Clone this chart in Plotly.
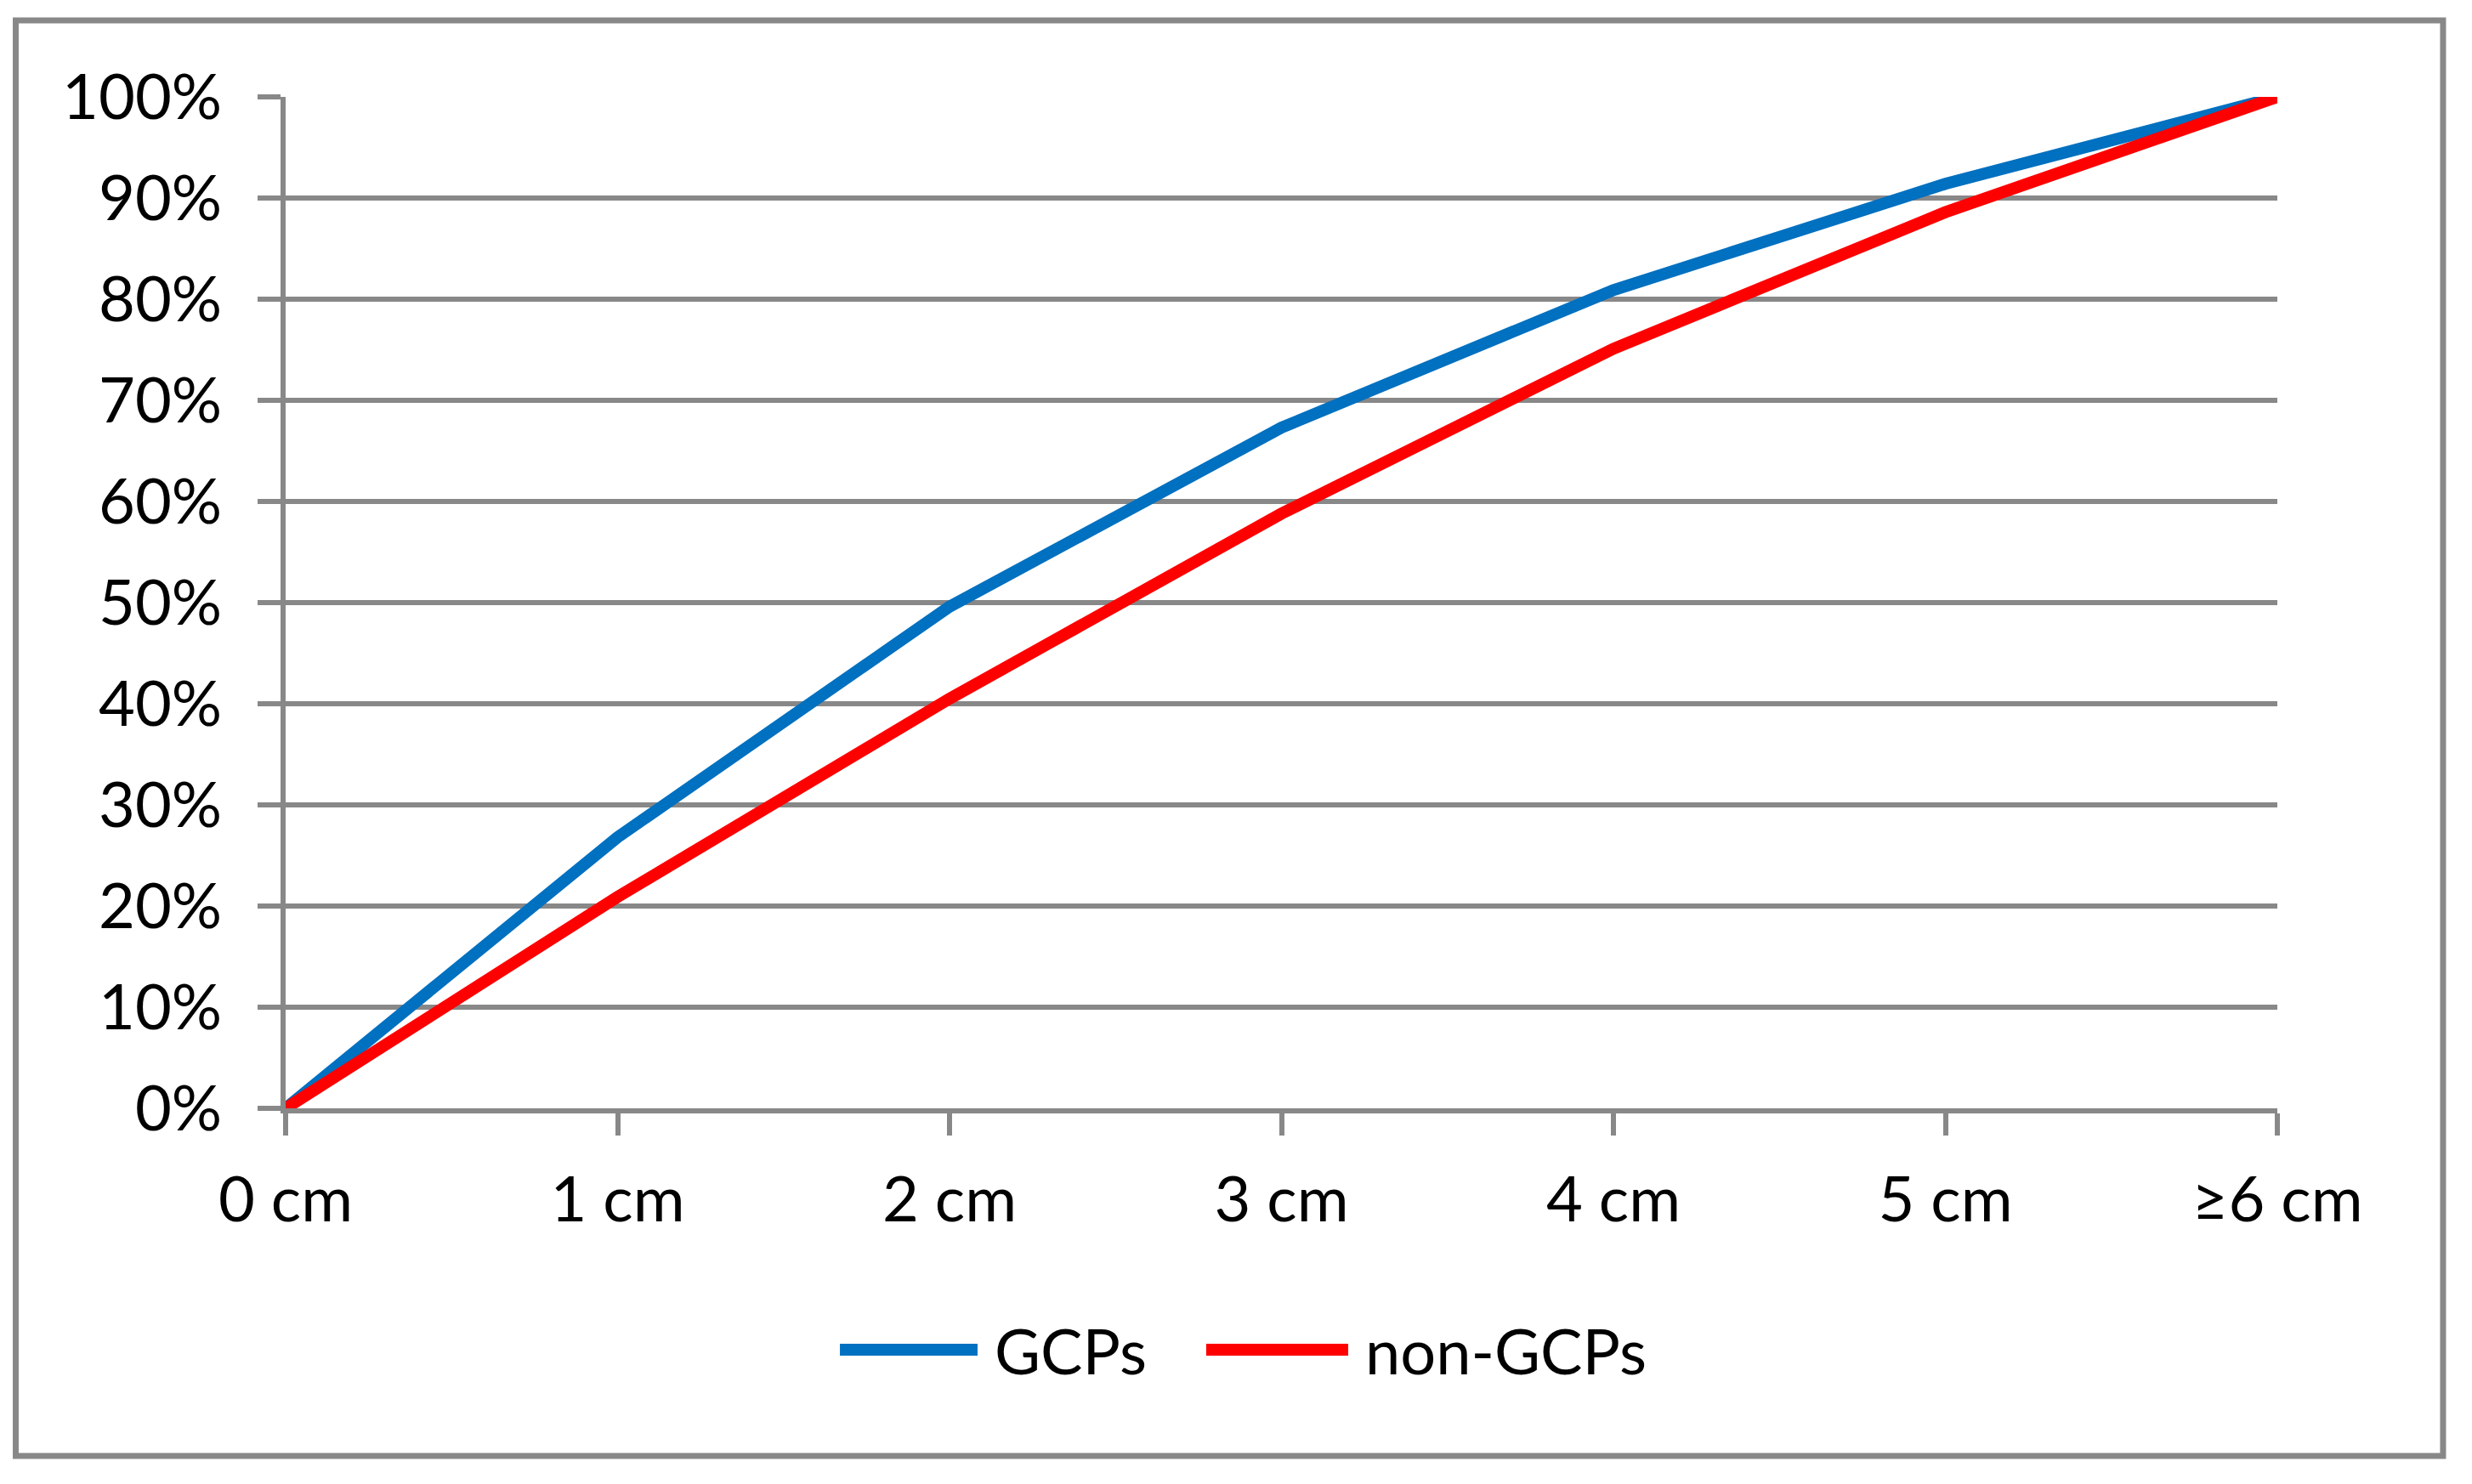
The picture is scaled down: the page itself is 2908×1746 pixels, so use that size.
import plotly.graph_objects as go

# Cumulative share of check points by error size
categories = ['0 cm', '1 cm', '2 cm', '3 cm', '4 cm', '5 cm', '\u22656 cm']
gcps = [0.0, 0.268, 0.496, 0.673, 0.809, 0.914, 1.0]
non_gcps = [0.0, 0.209, 0.405, 0.588, 0.751, 0.886, 1.0]

series_names = ['GCPs', 'non-GCPs']
series_colors = ['#0070C0', '#FF0000']

grey = '#888888'
font_family = 'Lato, Carlito, Calibri, sans-serif'
font_size = 74

fig = go.Figure()

for name, values, color in zip(series_names, [gcps, non_gcps], series_colors):
    fig.add_trace(go.Scatter(
        x=categories, y=values, name=name, mode='lines',
        line={'color': color, 'width': 14},
        cliponaxis=False,
    ))

# page body adds 8px around the figure, so keep it 16px smaller than the window
fig.update_layout(
    width=2892, height=1730,
    margin={'l': 328, 'r': 221, 't': 106, 'b': 434},
    paper_bgcolor='white', plot_bgcolor='white',
    font={'family': font_family, 'size': font_size, 'color': 'black'},
    showlegend=False,
)

fig.update_xaxes(
    type='category', range=[0, 6],
    showgrid=False, zeroline=False,
    showline=True, linecolor=grey, linewidth=6,
    ticks='outside', ticklen=26, tickwidth=6, tickcolor=grey,
    ticklabelstandoff=12,
)
fig.update_yaxes(
    range=[0, 1], dtick=0.1, tickformat='.0%',
    showgrid=True, gridcolor=grey, gridwidth=6, zeroline=False,
    showline=True, linecolor=grey, linewidth=6,
    ticks='outside', ticklen=27, tickwidth=6, tickcolor=grey,
    ticklabelstandoff=27,
)

# Outer chart border
fig.add_shape(type='rect', xref='paper', yref='paper',
              x0=-0.1355, x1=1.0832, y0=-0.3437, y1=1.0756,
              line={'color': grey, 'width': 7}, layer='below')

# Legend drawn by hand so the line samples are as long as in the original
legend_y = -0.2387
legend_items = [(0.2783, 0.3474, 0.3551), (0.4622, 0.5335, 0.5412)]
for (x0, x1, xt), name, color in zip(legend_items, series_names, series_colors):
    fig.add_shape(type='line', xref='paper', yref='paper',
                  x0=x0, x1=x1, y0=legend_y, y1=legend_y,
                  line={'color': color, 'width': 14})
    fig.add_annotation(xref='paper', yref='paper', x=xt, y=legend_y,
                       text=name, showarrow=False,
                       xanchor='left', yanchor='middle',
                       font={'size': font_size})

fig.write_html('out.html')
